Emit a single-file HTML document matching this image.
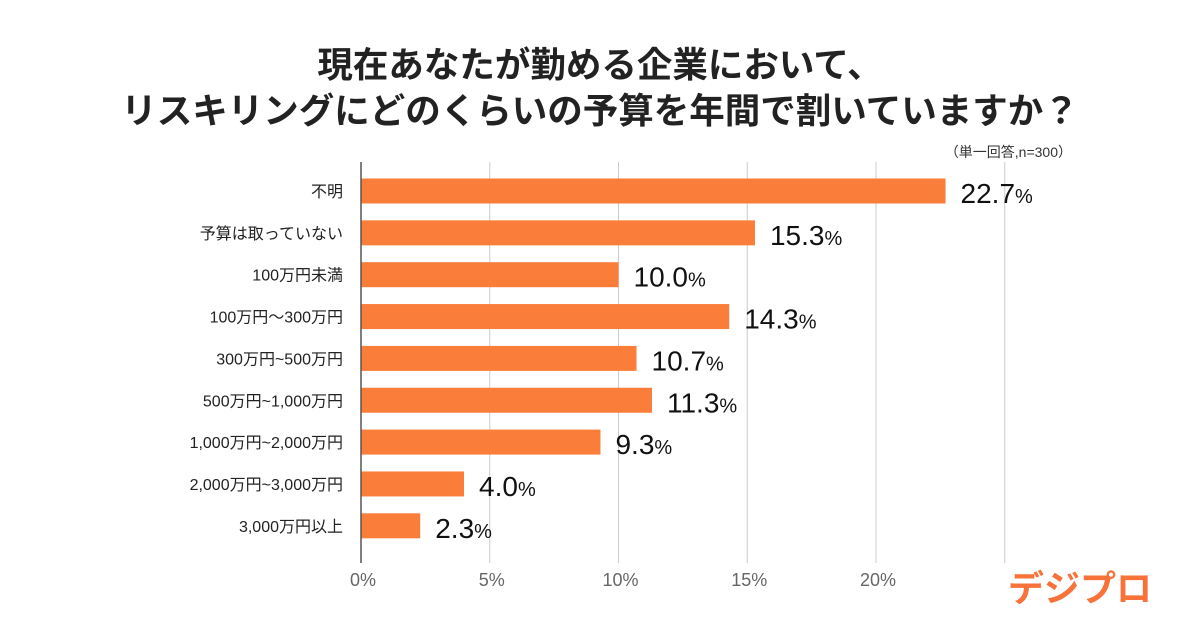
<!DOCTYPE html>
<html><head><meta charset="utf-8"><style>
body{margin:0;background:#fff;}
svg{display:block;font-family:"Liberation Sans","Noto Sans CJK JP",sans-serif;}
</style></head><body>
<svg id="chart" width="1200" height="628">
<text x="600" y="77" text-anchor="middle" font-size="35.5" font-weight="bold" fill="#222">現在あなたが勤める企業において、</text>
<text x="600" y="123" text-anchor="middle" font-size="35.5" font-weight="bold" fill="#222">リスキリングにどのくらいの予算を年間で割いていますか？</text>
<text x="1072" y="157" text-anchor="end" font-size="14" fill="#333">（単一回答,n=300）</text>
<g id="grid"></g><g id="bars"></g>
<line x1="361" y1="162" x2="361" y2="563" stroke="#555" stroke-width="1.5"/>
<text x="1080" y="601" text-anchor="middle" font-size="36" font-weight="bold" fill="#f7733a">デジプロ</text>
</svg>
<script>
const categories=["不明","予算は取っていない","100万円未満","100万円〜300万円","300万円~500万円","500万円~1,000万円","1,000万円~2,000万円","2,000万円~3,000万円","3,000万円以上"];
const values=[22.7,15.3,10.0,14.3,10.7,11.3,9.3,4.0,2.3];
const ticks=[0,5,10,15,20,25];
const tickLabels=["0%","5%","10%","15%","20%",""];
const NS="http://www.w3.org/2000/svg";
const x=v=>361+v*25.75;
const y=i=>191+i*41.85;
function mk(t,a,p,txt){const e=document.createElementNS(NS,t);for(const k in a)e.setAttribute(k,a[k]);if(txt!==undefined)e.textContent=txt;p.appendChild(e);return e;}
const g=document.getElementById('grid'),b=document.getElementById('bars');
ticks.forEach((t,i)=>{
 if(t>0){const l=mk('line',{x1:x(t),x2:x(t),y1:162,y2:563,stroke:'#ccc','stroke-width':1},g);
 
 }
 const tx=mk('text',{x:x(t)+2,y:586,'text-anchor':'middle','font-size':18,fill:'#666'},g,tickLabels[i]);
 
 
});
categories.forEach((c,i)=>{
 const r=mk('rect',{x:361,y:y(i)-12.5,width:x(values[i])-361,height:25,fill:'#fb7d3a'},b);
 
 
 const lb=mk('text',{x:343,y:y(i)+6,'text-anchor':'end','font-size':16,fill:'#222'},b,c);
 
 
 const s=values[i].toFixed(1);
 const vt=mk('text',{x:x(values[i])+15,y:y(i)+12,'font-size':28,fill:'#111'},b);
 
 
 mk('tspan',{},vt,s);
 mk('tspan',{'font-size':20},vt,'%');
});
</script>
</body></html>
